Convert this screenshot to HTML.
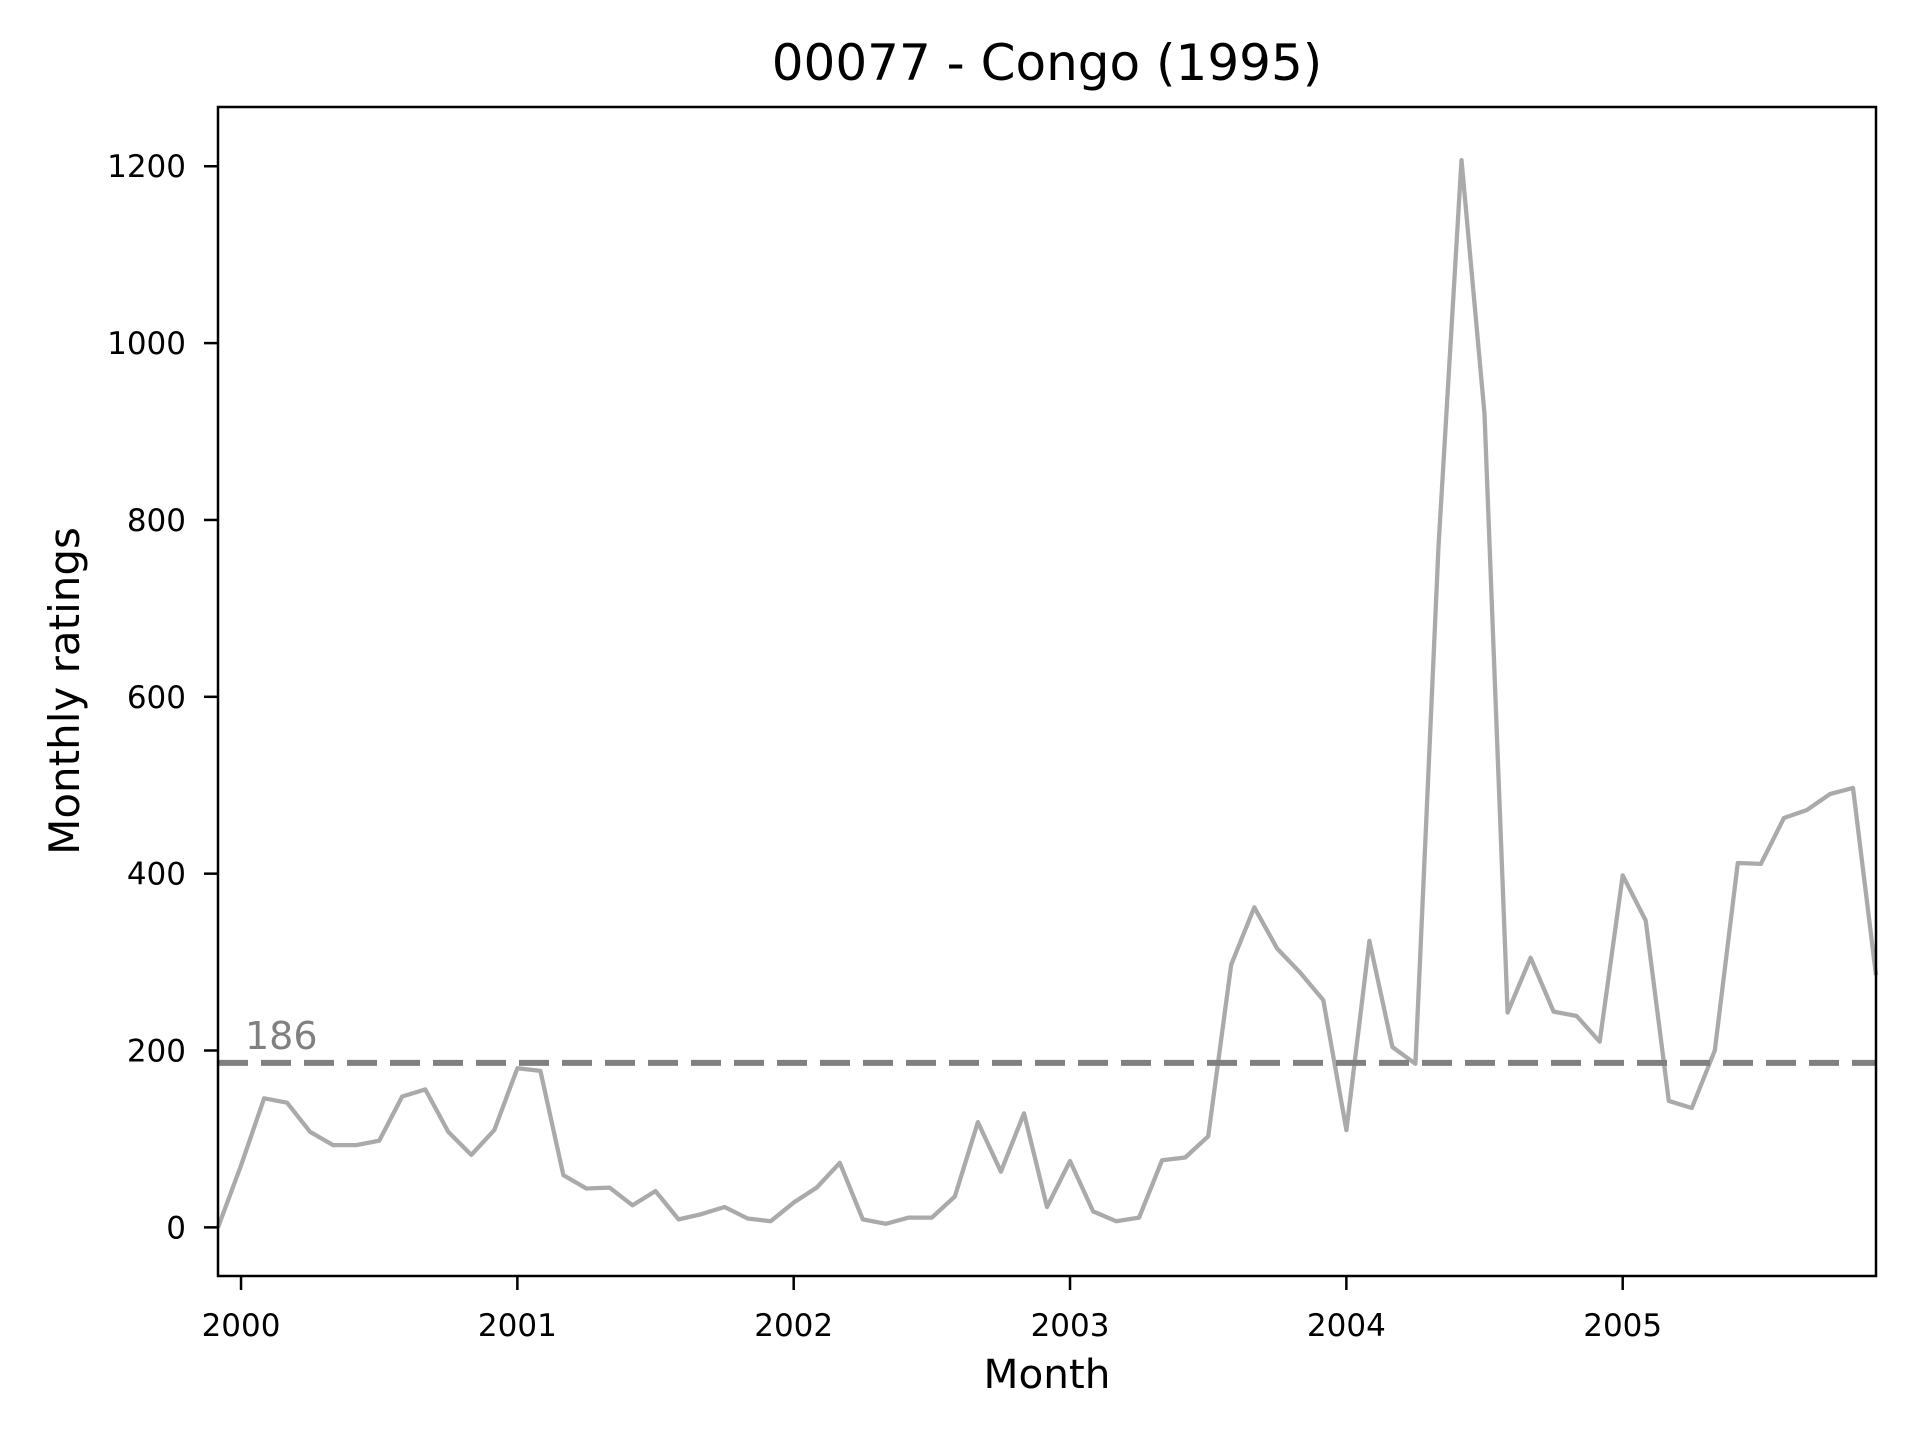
<!DOCTYPE html>
<html><head><meta charset="utf-8"><style>
html,body{margin:0;padding:0;background:#fff;}
svg text{font-family:"DejaVu Sans","Liberation Sans",sans-serif;}
</style></head><body>
<svg id="chart" width="1920" height="1440" viewBox="0 0 1920 1440" xmlns="http://www.w3.org/2000/svg">
<rect width="1920" height="1440" fill="#fff"/>
<text x="1047" y="80" font-size="50" text-anchor="middle">00077 - Congo (1995)</text>
<g id="plot"></g>
<text x="1047" y="1388" font-size="40.5" text-anchor="middle">Month</text>
<text transform="translate(79,691) rotate(-90)" font-size="42" text-anchor="middle">Monthly ratings</text>
</svg>
<script>
const values = [0,70,146,141,108,93,93,98,148,156,108,82,110,180,177,59,44,45,25,41,9,15,23,10,7,28,45,73,9,4,11,11,35,119,63,129,23,75,18,7,11,76,79,103,297,362,315,288,257,110,324,204,185,770,1207,920,243,305,244,239,210,398,347,143,135,200,412,411,463,472,490,497,285];
const startMonthIndex = -1; // first point Dec 1999, relative to Jan 2000
const yTicks = [0,200,400,600,800,1000,1200];
const xTickLabels = ["2000","2001","2002","2003","2004","2005"];
const meanValue = 186;

const L=218,R=1876,T=107,B=1276;
const yMin=-55,yMax=1267;
const nPts=values.length;
const x = m => L + (m - startMonthIndex) * (R-L)/(nPts-1);
const y = v => B - (v - yMin)*(B-T)/(yMax-yMin);
const NS="http://www.w3.org/2000/svg";
const g=document.getElementById('plot');
function mk(tag,attrs){const e=document.createElementNS(NS,tag);for(const k in attrs)e.setAttribute(k,attrs[k]);g.appendChild(e);return e;}

let d=values.map((v,i)=>(i?'L':'M')+x(startMonthIndex+i).toFixed(1)+','+y(v).toFixed(1)).join(' ');
const line=mk('path',{d:d,fill:'none',stroke:'#aaaaaa','stroke-width':4.3,'stroke-linejoin':'round'});



const ml=mk('line',{x1:L,x2:R,y1:y(meanValue),y2:y(meanValue),stroke:'#808080','stroke-width':6,'stroke-dasharray':'30 13'});


const mt=mk('text',{x:245,y:y(meanValue)-14,'font-size':38,fill:'#808080'});
mt.textContent=String(meanValue);



const fr=mk('rect',{x:L,y:T,width:R-L,height:B-T,fill:'none',stroke:'#000','stroke-width':2.5});



yTicks.forEach(v=>{
  const tk=mk('line',{x1:L-14,x2:L,y1:y(v),y2:y(v),stroke:'#000','stroke-width':2.5});
  
  
  const t=mk('text',{x:L-32,y:y(v)+11,'font-size':31,'text-anchor':'end'});
  t.textContent=String(v);
  
  
});
xTickLabels.forEach((lab,i)=>{
  const xm=x(i*12);
  const tk=mk('line',{x1:xm,x2:xm,y1:B,y2:B+14,stroke:'#000','stroke-width':2.5});
  
  
  const t=mk('text',{x:xm,y:B+60,'font-size':31,'text-anchor':'middle'});
  t.textContent=lab;
  
  
});
</script>
</body></html>
